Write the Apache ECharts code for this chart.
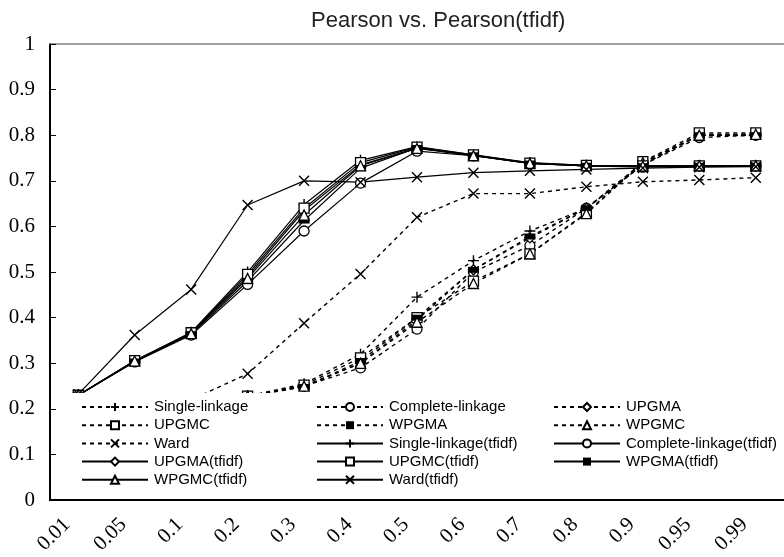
<!DOCTYPE html>
<html>
<head>
<meta charset="utf-8">
<script src="https://cdn.jsdelivr.net/npm/echarts@6/dist/echarts.min.js"></script>
<style>
  html, body { margin: 0; padding: 0; background: #fff; }
  #chart { width: 784px; height: 557px; }
</style>
</head>
<body>
<div id="chart"></div>
<script>
// 横轴类别
var categories = ['0.01', '0.05', '0.1', '0.2', '0.3', '0.4', '0.5', '0.6', '0.7', '0.8', '0.9', '0.95', '0.99'];

// 虚线：Pearson
var singleLinkage   = [0.15, 0.18, 0.20, 0.228, 0.255, 0.32, 0.445, 0.525, 0.59, 0.64, 0.74, 0.80, 0.80];
var completeLinkage = [0.15, 0.18, 0.20, 0.228, 0.25, 0.29, 0.375, 0.50, 0.558, 0.64, 0.735, 0.795, 0.80];
var upgma           = [0.15, 0.18, 0.20, 0.228, 0.25, 0.30, 0.395, 0.505, 0.575, 0.64, 0.738, 0.80, 0.802];
var upgmc           = [0.15, 0.18, 0.20, 0.228, 0.252, 0.312, 0.40, 0.48, 0.54, 0.63, 0.742, 0.805, 0.805];
var wpgma           = [0.15, 0.18, 0.20, 0.228, 0.248, 0.305, 0.40, 0.505, 0.578, 0.64, 0.735, 0.80, 0.80];
var wpgmc           = [0.15, 0.18, 0.20, 0.228, 0.25, 0.30, 0.39, 0.475, 0.54, 0.628, 0.74, 0.80, 0.802];
var ward            = [0.17, 0.19, 0.22, 0.277, 0.388, 0.496, 0.62, 0.672, 0.672, 0.687, 0.698, 0.702, 0.707];

// 实线：Pearson(tfidf)
var singleTfidf   = [0.23, 0.305, 0.368, 0.50, 0.648, 0.745, 0.775, 0.757, 0.74, 0.734, 0.733, 0.733, 0.733];
var completeTfidf = [0.23, 0.303, 0.362, 0.473, 0.59, 0.695, 0.765, 0.755, 0.738, 0.733, 0.73, 0.733, 0.733];
var upgmaTfidf    = [0.23, 0.305, 0.366, 0.49, 0.635, 0.735, 0.772, 0.756, 0.739, 0.733, 0.732, 0.733, 0.733];
var upgmcTfidf    = [0.23, 0.306, 0.367, 0.495, 0.64, 0.74, 0.774, 0.757, 0.739, 0.734, 0.733, 0.733, 0.733];
var wpgmaTfidf    = [0.23, 0.304, 0.364, 0.48, 0.613, 0.728, 0.772, 0.756, 0.738, 0.733, 0.732, 0.733, 0.733];
var wpgmcTfidf    = [0.23, 0.305, 0.365, 0.486, 0.625, 0.733, 0.771, 0.755, 0.738, 0.733, 0.732, 0.733, 0.733];
var wardTfidf     = [0.232, 0.362, 0.462, 0.647, 0.70, 0.697, 0.708, 0.718, 0.722, 0.725, 0.728, 0.73, 0.731];

// 图例分三列
var legendCol1 = ['Single-linkage', 'UPGMC', 'Ward', 'UPGMA(tfidf)', 'WPGMC(tfidf)'];
var legendCol2 = ['Complete-linkage', 'WPGMA', 'Single-linkage(tfidf)', 'UPGMC(tfidf)', 'Ward(tfidf)'];
var legendCol3 = ['UPGMA', 'WPGMC', 'Complete-linkage(tfidf)', 'WPGMA(tfidf)'];

var PLUS = 'path://M5,0L5,10M0,5L10,5';
var CROSS = 'path://M0,0L10,10M10,0L0,10';

// marker: 'plus' | 'circle' | 'diamond' | 'square' | 'bar' | 'triangle' | 'cross'
function makeSeries(name, data, marker, dashed) {
  var s = {
    name: name,
    type: 'line',
    data: data,
    z: 2,
    lineStyle: { color: '#000', width: dashed ? 1.4 : 1.2, type: dashed ? [4, 4] : 'solid' },
    emphasis: { disabled: true },
    symbolSize: 10,
    itemStyle: { color: '#fff', borderColor: '#000', borderWidth: 1.3 }
  };
  if (marker === 'plus') { s.symbol = PLUS; s.symbolSize = 11; s.itemStyle = { color: '#000', borderColor: '#000', borderWidth: 1.4 }; }
  if (marker === 'cross') { s.symbol = CROSS; s.symbolSize = 10; s.itemStyle = { color: '#000', borderColor: '#000', borderWidth: 1.4 }; }
  if (marker === 'circle') s.symbol = 'circle';
  if (marker === 'diamond') s.symbol = 'diamond';
  if (marker === 'square') s.symbol = 'rect';
  if (marker === 'triangle') s.symbol = 'triangle';
  if (marker === 'bar') { s.symbol = 'rect'; s.symbolSize = [11, 6]; s.itemStyle = { color: '#000', borderColor: '#000', borderWidth: 0 }; }
  return s;
}

var legendCommon = {
  orient: 'vertical',
  top: 399.5,
  padding: 0,
  itemGap: 3.2,
  itemWidth: 66,
  itemHeight: 10,
  selectedMode: false,
  textStyle: {
    color: '#000',
    fontFamily: "'Liberation Sans', sans-serif",
    fontSize: 15,
    padding: [0, 0, 0, 1]
  }
};

var myChart = echarts.init(document.getElementById('chart'));

var option = {
  animation: false,
  backgroundColor: '#fff',
  title: {
    text: 'Pearson vs. Pearson(tfidf)',
    left: 306,
    top: 5,
    textStyle: { color: '#222', fontFamily: "'Liberation Sans', sans-serif", fontSize: 22, fontWeight: 'normal' }
  },
  grid: { left: 50, right: 0, top: 44, bottom: 56 },
  legend: [
    Object.assign({ left: 81, data: legendCol1 }, legendCommon),
    Object.assign({ left: 316, data: legendCol2 }, legendCommon),
    Object.assign({ left: 553, data: legendCol3 }, legendCommon)
  ],
  // 图例的白色底框
  graphic: [{
    type: 'rect',
    z: 3,
    silent: true,
    shape: { x: 57, y: 393, width: 726, height: 103 },
    style: { fill: '#fff' }
  }],
  xAxis: [{
    type: 'category',
    data: categories,
    boundaryGap: true,
    axisLine: { lineStyle: { color: '#000', width: 2 } },
    axisTick: { inside: true, length: 5, lineStyle: { color: '#000', width: 1 } },
    axisLabel: {
      rotate: 45, margin: 10, padding: [0, 16, 0, 0],
      color: '#000', fontFamily: "'Liberation Serif', serif", fontSize: 21
    },
    splitLine: { show: false }
  }, {
    type: 'category',
    position: 'top',
    data: categories,
    axisLine: { lineStyle: { color: '#808080', width: 1.5 } },
    axisTick: { show: false },
    axisLabel: { show: false },
    splitLine: { show: false }
  }],
  yAxis: {
    type: 'value',
    min: 0,
    max: 1,
    interval: 0.1,
    axisLine: { show: true, lineStyle: { color: '#000', width: 2 } },
    axisTick: { show: true, inside: true, length: 6, lineStyle: { color: '#000', width: 1 } },
    axisLabel: { margin: 15, color: '#000', fontFamily: "'Liberation Serif', serif", fontSize: 21 },
    splitLine: { show: false }
  },
  series: [
    makeSeries('Single-linkage', singleLinkage, 'plus', true),
    makeSeries('Complete-linkage', completeLinkage, 'circle', true),
    makeSeries('UPGMA', upgma, 'diamond', true),
    makeSeries('UPGMC', upgmc, 'square', true),
    makeSeries('WPGMA', wpgma, 'bar', true),
    makeSeries('WPGMC', wpgmc, 'triangle', true),
    makeSeries('Ward', ward, 'cross', true),
    makeSeries('Single-linkage(tfidf)', singleTfidf, 'plus', false),
    makeSeries('Complete-linkage(tfidf)', completeTfidf, 'circle', false),
    makeSeries('UPGMA(tfidf)', upgmaTfidf, 'diamond', false),
    makeSeries('UPGMC(tfidf)', upgmcTfidf, 'square', false),
    makeSeries('WPGMA(tfidf)', wpgmaTfidf, 'bar', false),
    makeSeries('WPGMC(tfidf)', wpgmcTfidf, 'triangle', false),
    makeSeries('Ward(tfidf)', wardTfidf, 'cross', false)
  ]
};

myChart.setOption(option);
</script>
</body>
</html>
